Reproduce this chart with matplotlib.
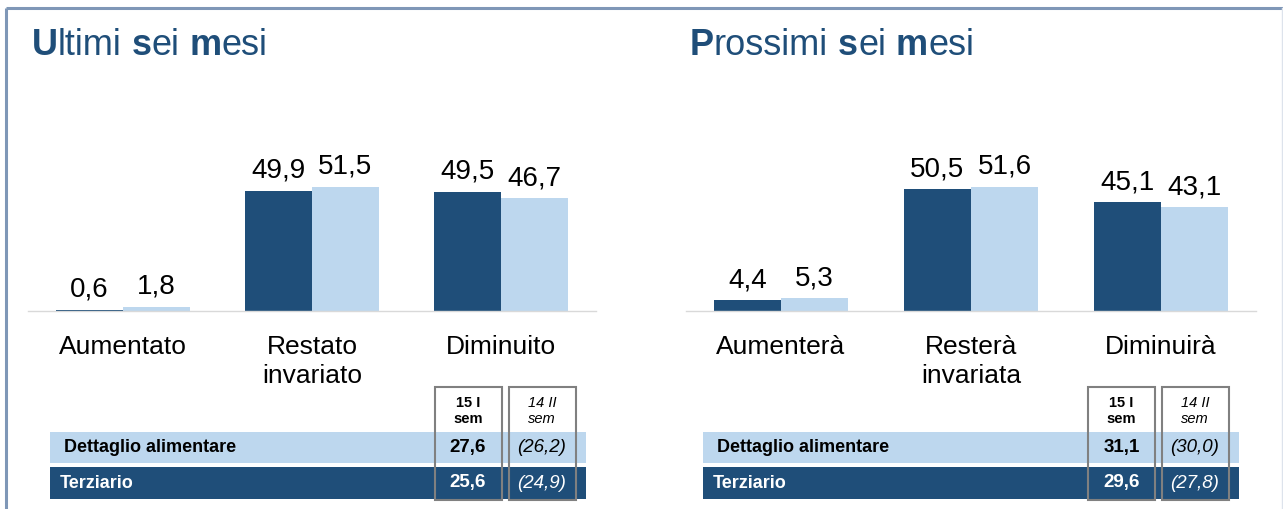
import matplotlib
matplotlib.use('Agg')
import matplotlib.pyplot as plt
from matplotlib.patches import Rectangle
import numpy as np

plt.rcParams['font.family'] = ['Liberation Sans', 'DejaVu Sans']

DARK = '#1F4E79'
LIGHT = '#BDD7EE'
BORDER = '#7F97B7'

# ---- data ----
left_cats = ['Aumentato', 'Restato\ninvariato', 'Diminuito']
left_15 = [0.6, 49.9, 49.5]
left_14 = [1.8, 51.5, 46.7]

right_cats = ['Aumenterà', 'Resterà\ninvariata', 'Diminuirà']
right_15 = [4.4, 50.5, 45.1]
right_14 = [5.3, 51.6, 43.1]

row_names = ['Dettaglio alimentare', 'Terziario']
col_heads = ['15 I\nsem', '14 II\nsem']
left_tab_15 = ['27,6', '25,6']
left_tab_14 = ['(26,2)', '(24,9)']
right_tab_15 = ['31,1', '29,6']
right_tab_14 = ['(30,0)', '(27,8)']

W, H = 1283, 509
fig = plt.figure(figsize=(W / 100, H / 100), dpi=100)

# background axes in pixel coords
bg = fig.add_axes([0, 0, 1, 1])
bg.set_xlim(0, W)
bg.set_ylim(H, 0)
bg.axis('off')

bg.plot([6, 6], [8, H], color=BORDER, lw=2.2, solid_capstyle='butt')
bg.plot([6, W], [8, 8], color=BORDER, lw=2.2, solid_capstyle='butt')
bg.plot([W - 1.5, W - 1.5], [8, H], color='#DDE3EC', lw=1)


def title(x, pieces):
    prev = None
    for txt, bold in pieces:
        kw = dict(fontsize=26, color=DARK, va='bottom', ha='left',
                  weight='bold' if bold else 'normal')
        if prev is None:
            prev = bg.text(x, 63, txt, **kw)
        else:
            prev = bg.annotate(txt, xy=(1, 0), xycoords=prev, **kw)


title(32, [('U', True), ('ltimi', False), (' s', True), ('ei', False),
           (' m', True), ('esi', False)])
title(690, [('P', True), ('rossimi', False), (' s', True), ('ei', False),
            (' m', True), ('esi', False)])


def bars(x0, x1, cats, v15, v14):
    ax = fig.add_axes([x0 / W, (H - 311) / H, (x1 - x0) / W, 60 * 2.41 / H])
    ax.patch.set_alpha(0)
    x = np.arange(len(cats))
    w = 0.353
    b1 = ax.bar(x - w / 2, v15, w, color=DARK)
    b2 = ax.bar(x + w / 2, v14, w, color=LIGHT)
    for bs, vals in ((b1, v15), (b2, v14)):
        for b, v in zip(bs, vals):
            ax.annotate(f'{v:.1f}'.replace('.', ','),
                        (b.get_x() + b.get_width() / 2, v),
                        xytext=(0, 5), textcoords='offset points',
                        ha='center', va='bottom', fontsize=20)
    ax.set_xlim(-0.5, len(cats) - 0.5)
    ax.set_ylim(0, 60)
    for s in ('top', 'right', 'left'):
        ax.spines[s].set_visible(False)
    ax.spines['bottom'].set_color('#D9D9D9')
    ax.spines['bottom'].set_linewidth(1)
    ax.set_yticks([])
    ax.set_xticks(x)
    ax.set_xticklabels(cats, fontsize=19, linespacing=1.3)
    ax.tick_params(axis='x', length=0, pad=17)
    return ax


bars(28, 596, left_cats, left_15, left_14)
bars(686, 1256, right_cats, right_15, right_14)


def table(x0, x1, name_x, c1, c2, v15, v14):
    rows_y = [(432, 463), (467, 499)]
    for (ya, yb), name, a, b, fc, tc in zip(rows_y, row_names, v15, v14,
                                           [LIGHT, DARK], ['black', 'white']):
        bg.add_patch(Rectangle((x0, ya), x1 - x0, yb - ya, color=fc, lw=0))
        yc = (ya + yb) / 2
        bg.text(name_x[row_names.index(name)], yc, name, fontsize=13,
                weight='bold', color=tc, va='center', ha='left')
        bg.text(c1, yc, a, fontsize=13.5, weight='bold', color=tc,
                va='center', ha='center')
        bg.text(c2, yc, b, fontsize=13.5, style='italic', color=tc,
                va='center', ha='center')
    for cx, head, kw in ((c1, col_heads[0], dict(weight='bold')),
                         (c2, col_heads[1], dict(style='italic'))):
        bg.add_patch(Rectangle((cx - 33.5, 387), 67, 113, fill=False,
                               ec='#808080', lw=1.5, zorder=5))
        bg.text(cx, 411, head, fontsize=10.5, ha='center', va='center',
                linespacing=1.1, **kw)


table(50, 586, [64, 60], 468, 542, left_tab_15, left_tab_14)
table(703, 1239, [717, 713], 1121.5, 1195, right_tab_15, right_tab_14)

fig.savefig('out.png', dpi=100)
